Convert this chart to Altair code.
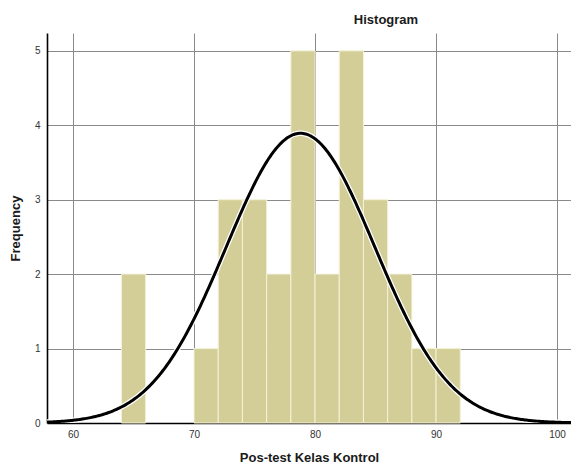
import altair as alt
import numpy as np
import pandas as pd

# Histogram bins (start of each 2-unit bin) and frequencies
bin_starts = [64, 70, 72, 74, 76, 78, 80, 82, 84, 86, 88, 90]
counts = [2, 1, 3, 3, 2, 5, 2, 5, 3, 2, 1, 1]
bin_width = 2

# Fitted normal curve parameters
curve_mean = 78.8
curve_sd = 6.15
n_total = sum(counts)

x_ticks = [60, 70, 80, 90, 100]
y_ticks = [0, 1, 2, 3, 4, 5]
x_domain = [57.85, 101.15]
y_domain = [0, 5.24]

bars = pd.DataFrame({
    "start": bin_starts,
    "end": [s + bin_width for s in bin_starts],
    "count": counts,
})

xs = np.linspace(x_domain[0], x_domain[1], 400)
ys = n_total * bin_width / (curve_sd * np.sqrt(2 * np.pi)) * np.exp(-((xs - curve_mean) ** 2) / (2 * curve_sd ** 2))
curve = pd.DataFrame({"x": xs, "y": ys})

FONT = "Liberation Sans"

xscale = alt.Scale(domain=x_domain, nice=False, zero=False)
yscale = alt.Scale(domain=y_domain, nice=False)

xaxis = alt.Axis(values=x_ticks, title="Pos-test Kelas Kontrol", grid=True, ticks=False,
                 labelPadding=6, titlePadding=12, format="d")
yaxis = alt.Axis(values=y_ticks, title="Frequency", grid=True, ticks=False,
                 labelPadding=7, titlePadding=12, format="d")

bar_layer = alt.Chart(bars).mark_rect(color="#D3CE97", stroke="#F4F2D6", strokeWidth=1).encode(
    x=alt.X("start:Q", scale=xscale, axis=xaxis),
    x2="end:Q",
    y=alt.Y("count:Q", scale=yscale, axis=yaxis),
    y2=alt.datum(0),
)

halo = alt.Chart(curve).mark_line(color="white", strokeWidth=5.5, clip=True).encode(
    x=alt.X("x:Q", scale=xscale),
    y=alt.Y("y:Q", scale=yscale),
)
line = alt.Chart(curve).mark_line(color="black", strokeWidth=3, clip=True).encode(
    x=alt.X("x:Q", scale=xscale),
    y=alt.Y("y:Q", scale=yscale),
)

chart = (bar_layer + halo + line).properties(
    width=524,
    height=390,
    title=alt.TitleParams("Histogram", anchor="middle", dx=77, offset=6,
                          font=FONT, fontSize=13, fontWeight="bold", color="#1a1a1a"),
    autosize=alt.AutoSizeParams(type="none"),
    padding={"left": 39, "top": 25, "right": 0, "bottom": 48},
).configure_view(
    stroke=None
).configure_axis(
    labelFont=FONT, titleFont=FONT, labelFontSize=10, titleFontSize=13,
    titleFontWeight="bold", labelColor="#333333", titleColor="#1a1a1a",
    gridColor="#8a8a8a", gridWidth=1, domainColor="black", domainWidth=1.6,
)

chart.save("out.html", embed_options={"renderer": "svg", "actions": False})
